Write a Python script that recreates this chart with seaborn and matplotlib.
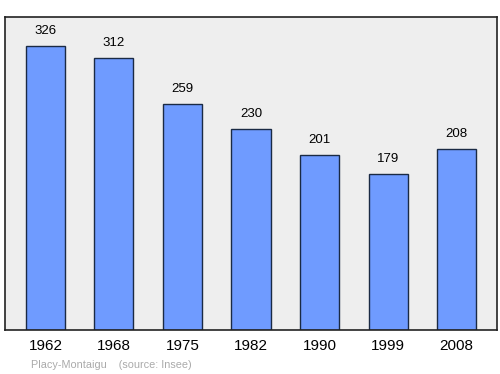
import matplotlib
matplotlib.use("Agg")
import matplotlib.pyplot as plt
import seaborn as sns
import pandas as pd

years = ["1962", "1968", "1975", "1982", "1990", "1999", "2008"]
population = [326, 312, 259, 230, 201, 179, 208]
footer = "Placy-Montaigu    (source: Insee)"

sns.set_style("white")
plt.rcParams['font.family'] = ['Liberation Sans', 'DejaVu Sans']

df = pd.DataFrame({"year": years, "pop": population})
fig = plt.figure(figsize=(5, 3.74), dpi=100)
ax = fig.add_axes([0.01, 0.1176, 0.984, 0.837])
sns.barplot(data=df, x="year", y="pop", color="#6f9bff", saturation=1,
            edgecolor="#1a2a44", linewidth=1.0, width=0.57, ax=ax)
ax.set_facecolor("#eeeeee")
ax.set_xlim(-0.59, 6.59)
ax.set_ylim(0, 359)
ax.set_xlabel("")
ax.set_ylabel("")
ax.set_yticks([])
ax.tick_params(axis="x", length=0, labelsize=11, pad=6.5, labelcolor="black")
for s in ax.spines.values():
    s.set_color("#222222")
    s.set_linewidth(1.2)
for i, v in enumerate(population):
    ax.annotate(str(v), (i, v), xytext=(0, 6.5), textcoords="offset points",
                ha="center", va="bottom", fontsize=9.5, color="black")
fig.text(0.062, 0.016, footer, color="#aaaaaa", fontsize=7.8)
fig.savefig("out.png", dpi=100)
